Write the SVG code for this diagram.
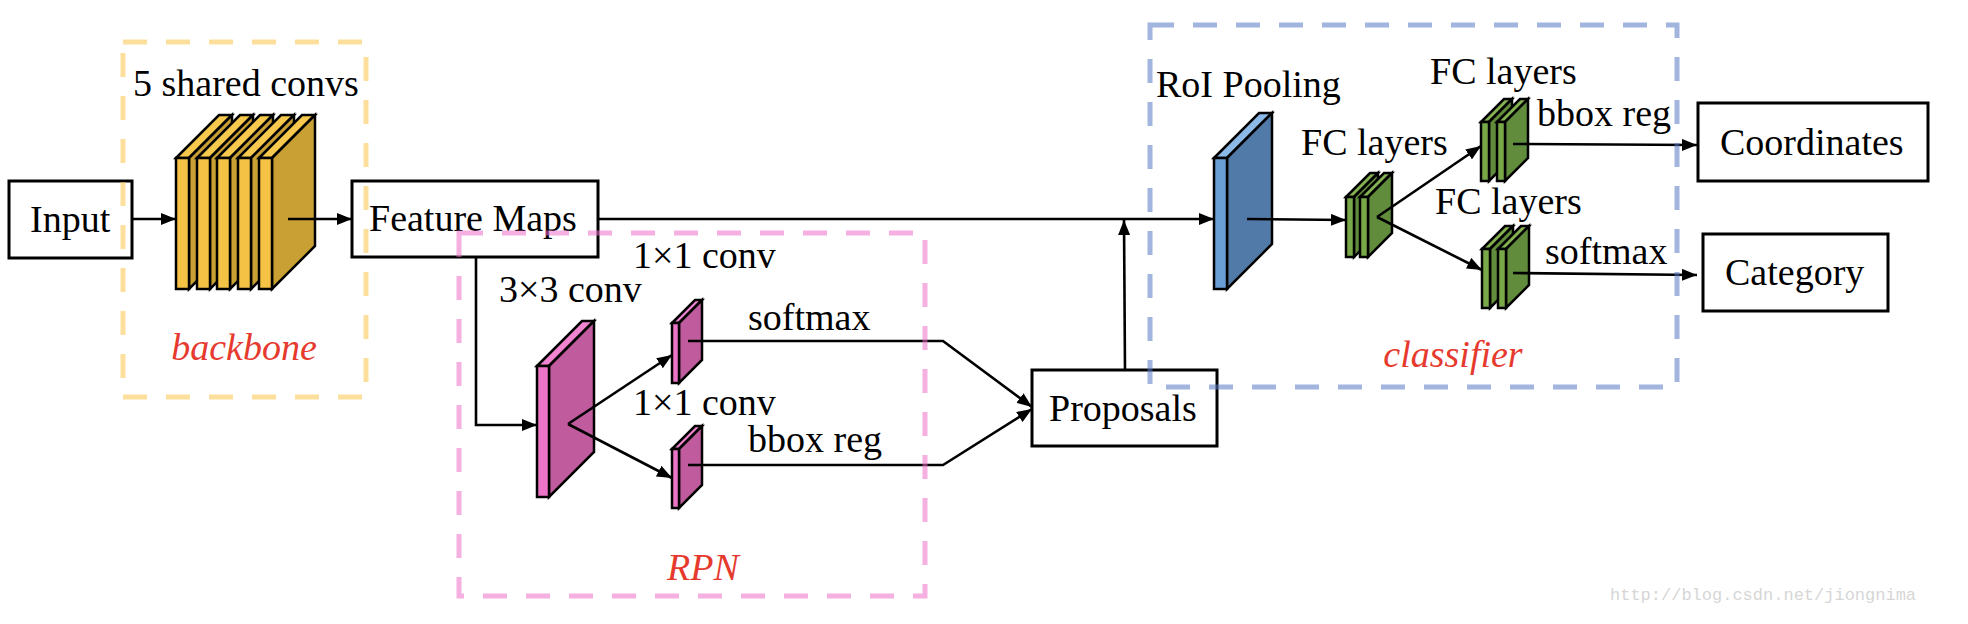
<svg xmlns="http://www.w3.org/2000/svg" width="1968" height="624" viewBox="0 0 1968 624" font-family="'Liberation Serif', 'Times New Roman', 'DejaVu Serif', serif">
<defs>
<style>
text{font-family:'Liberation Serif','Times New Roman','DejaVu Serif',serif;font-size:38px;fill:#000}
.lbl{font-style:italic;fill:#E63A2E}
.box{fill:#fff;stroke:#000;stroke-width:3}
.ln{fill:none;stroke:#000;stroke-width:2.6}
.arr{marker-end:url(#ah)}
.dash{fill:none;stroke-width:5;stroke-dasharray:24 19;stroke-opacity:0.55}
.s{stroke:#000;stroke-width:2.5;stroke-linejoin:miter}
.yf{fill:#F4C244}.yt{fill:#F6C94E}.ys{fill:#C9A034}
.pf{fill:#EC74C6}.pt{fill:#F184D0}.ps{fill:#C05B9E}
.bf{fill:#6A9FD6}.bt{fill:#8CBAE8}.bs{fill:#527AA8}
.gf{fill:#79A848}.gt{fill:#84B252}.gs{fill:#618C3C}
text.wm{font-family:'Liberation Mono','DejaVu Sans Mono',monospace;font-size:17px;fill:#D6D6D6}
</style>
<marker id="ah" markerUnits="userSpaceOnUse" markerWidth="16" markerHeight="12" refX="15" refY="6" orient="auto">
<path d="M0,0 L15,6 L0,12 z" fill="#000"/>
</marker>
</defs>
<rect width="1968" height="624" fill="#fff"/>

<g id="input">
<rect class="box" x="9" y="181" width="123" height="77"/>
<text x="30" y="232" font-family="'Liberation Serif', serif">Input</text>
</g>

<g id="shared-convs">
<g>
<polygon class="yt s" points="176,158 219,115 232,115 189,158"/>
<polygon class="ys s" points="189,158 232,115 232,246 189,289"/>
<rect class="yf s" x="176" y="158" width="13" height="131"/>
</g>
<g>
<polygon class="yt s" points="197,158 240,115 253,115 210,158"/>
<polygon class="ys s" points="210,158 253,115 253,246 210,289"/>
<rect class="yf s" x="197" y="158" width="13" height="131"/>
</g>
<g>
<polygon class="yt s" points="217,158 260,115 273,115 230,158"/>
<polygon class="ys s" points="230,158 273,115 273,246 230,289"/>
<rect class="yf s" x="217" y="158" width="13" height="131"/>
</g>
<g>
<polygon class="yt s" points="238,158 281,115 294,115 251,158"/>
<polygon class="ys s" points="251,158 294,115 294,246 251,289"/>
<rect class="yf s" x="238" y="158" width="13" height="131"/>
</g>
<g>
<polygon class="yt s" points="259,158 302,115 315,115 272,158"/>
<polygon class="ys s" points="272,158 315,115 315,246 272,289"/>
<rect class="yf s" x="259" y="158" width="13" height="131"/>
</g>
<text x="133" y="96">5 shared convs</text>
</g>

<g id="feature-maps">
<rect class="box" x="352" y="181" width="246" height="76"/>
<text x="369" y="231">Feature Maps</text>
</g>

<g id="rpn-conv3">
<polygon class="pt s" points="537,366 582,321 594,321 549,366"/>
<polygon class="ps s" points="549,366 594,321 594,452 549,497"/>
<rect class="pf s" x="537" y="366" width="12" height="131"/>
<text x="499" y="302">3×3 conv</text>
</g>

<g id="rpn-cls">
<polygon class="pt s" points="672,323 695,300 702,300 679,323"/>
<polygon class="ps s" points="679,323 702,300 702,360 679,383"/>
<rect class="pf s" x="672" y="323" width="7" height="60"/>
<text x="633" y="268">1×1 conv</text>
<text x="748" y="330">softmax</text>
</g>

<g id="rpn-reg">
<polygon class="pt s" points="672,449 695,426 702,426 679,449"/>
<polygon class="ps s" points="679,449 702,426 702,485 679,508"/>
<rect class="pf s" x="672" y="449" width="7" height="59"/>
<text x="633" y="415">1×1 conv</text>
<text x="748" y="452">bbox reg</text>
</g>

<g id="proposals">
<rect class="box" x="1032" y="370" width="185" height="76"/>
<text x="1049" y="421">Proposals</text>
</g>

<g id="roi-pooling">
<polygon class="bt s" points="1214,158 1259,113 1272,113 1227,158"/>
<polygon class="bs s" points="1227,158 1272,113 1272,244 1227,289"/>
<rect class="bf s" x="1214" y="158" width="13" height="131"/>
<text x="1156" y="97">RoI Pooling</text>
</g>

<g id="fc-shared">
<polygon class="gt s" points="1346,197 1370,173 1378,173 1354,197"/>
<polygon class="gs s" points="1354,197 1378,173 1378,233 1354,257"/>
<rect class="gf s" x="1346" y="197" width="8" height="60"/>
<polygon class="gt s" points="1360,197 1384,173 1392,173 1368,197"/>
<polygon class="gs s" points="1368,197 1392,173 1392,233 1368,257"/>
<rect class="gf s" x="1360" y="197" width="8" height="60"/>
<text x="1301" y="155">FC layers</text>
</g>

<g id="fc-reg">
<polygon class="gt s" points="1481,122 1504,99 1512,99 1489,122"/>
<polygon class="gs s" points="1489,122 1512,99 1512,158 1489,181"/>
<rect class="gf s" x="1481" y="122" width="8" height="59"/>
<polygon class="gt s" points="1497,122 1520,99 1528,99 1505,122"/>
<polygon class="gs s" points="1505,122 1528,99 1528,158 1505,181"/>
<rect class="gf s" x="1497" y="122" width="8" height="59"/>
<text x="1430" y="84">FC layers</text>
<text x="1537" y="126">bbox reg</text>
</g>

<g id="fc-cls">
<polygon class="gt s" points="1482,249 1505,226 1513,226 1490,249"/>
<polygon class="gs s" points="1490,249 1513,226 1513,285 1490,308"/>
<rect class="gf s" x="1482" y="249" width="8" height="59"/>
<polygon class="gt s" points="1498,249 1521,226 1529,226 1506,249"/>
<polygon class="gs s" points="1506,249 1529,226 1529,285 1506,308"/>
<rect class="gf s" x="1498" y="249" width="8" height="59"/>
<text x="1435" y="214">FC layers</text>
<text x="1545" y="264">softmax</text>
</g>

<g id="coordinates">
<rect class="box" x="1698" y="103" width="230" height="78"/>
<text x="1720" y="155">Coordinates</text>
</g>

<g id="category">
<rect class="box" x="1703" y="234" width="185" height="77"/>
<text x="1725" y="285">Category</text>
</g>

<g id="connectors">
<path class="ln arr" d="M132 219 H176"/>
<path class="ln arr" d="M288 219 H352"/>
<path class="ln arr" d="M598 219 H1214"/>
<path class="ln arr" d="M476 257 V425 H537"/>
<path class="ln arr" d="M568 424 L672 355"/>
<path class="ln arr" d="M568 424 L672 478"/>
<path class="ln arr" d="M688 341 H943 L1032 407"/>
<path class="ln arr" d="M688 465 H943 L1032 409"/>
<path class="ln arr" d="M1125 370 L1124 220"/>
<path class="ln arr" d="M1247 219 L1346 220"/>
<path class="ln arr" d="M1377 217 L1481 146"/>
<path class="ln arr" d="M1377 217 L1482 270"/>
<path class="ln arr" d="M1513 144 L1697 145"/>
<path class="ln arr" d="M1513 273 L1697 275"/>
</g>

<g id="groups">
<rect class="dash" x="123" y="42" width="243" height="355" stroke="#F9C44A"/>
<text class="lbl" x="244" y="360" text-anchor="middle">backbone</text>
<rect class="dash" x="459" y="233" width="466" height="363" stroke="#EC70C9"/>
<text class="lbl" x="703" y="580" text-anchor="middle">RPN</text>
<rect class="dash" x="1150" y="25" width="527" height="362" stroke="#5578C4"/>
<text class="lbl" x="1453" y="367" text-anchor="middle">classifier</text>
</g>

<text class="wm" x="1610" y="600">http://blog.csdn.net/jiongnima</text>
</svg>
